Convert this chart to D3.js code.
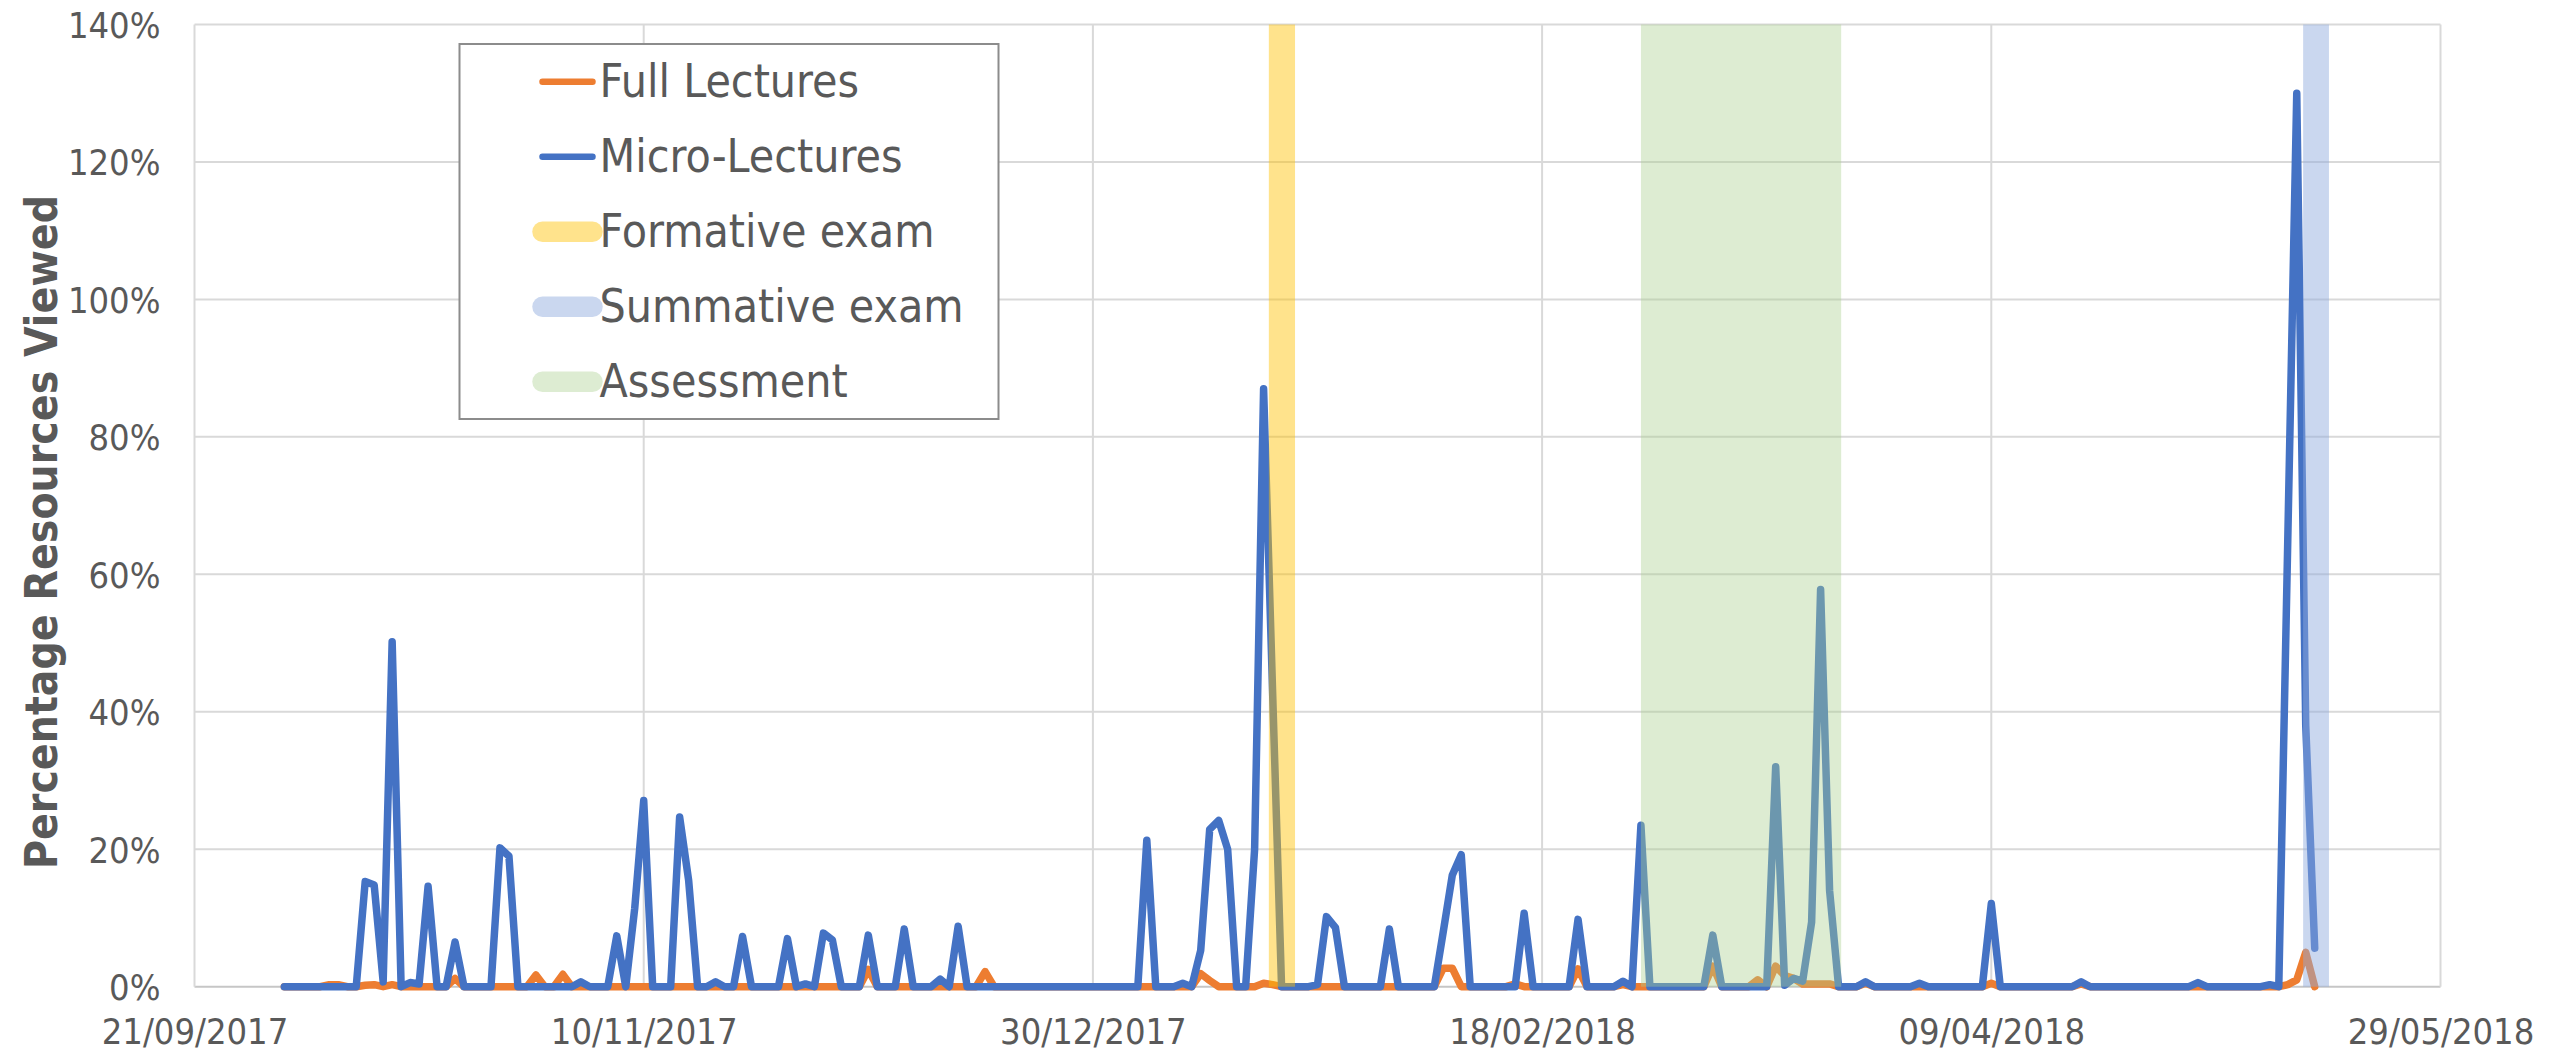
<!DOCTYPE html>
<html>
<head>
<meta charset="utf-8">
<script src="https://cdnjs.cloudflare.com/ajax/libs/d3/7.8.5/d3.min.js"></script>
<style>
  html, body { margin: 0; padding: 0; background: #fff; }
  svg { display: block; }
  .tick-label { font-family: "DejaVu Sans Condensed", "DejaVu Sans", sans-serif; font-size: 36px; fill: #595959; }
  .legend-label { font-family: "DejaVu Sans Condensed", "DejaVu Sans", sans-serif; font-size: 46px; fill: #595959; }
</style>
</head>
<body>
<svg id="chart"></svg>
<script>
// Daily data, first value is 01/10/2017
const firstDay = "2017-10-01";

// Full Lectures (% resources viewed per day)
const fullLectures = [
  0, 0, 0, 0, 0, 0.3, 0.3, 0, 0, 0.2,
  0.3, 0, 0.3, 0, 0, 0, 0, 0, 0, 1.2,
  0, 0, 0, 0, 0, 0, 0, 0, 1.7, 0,
  0, 1.8, 0, 0, 0, 0, 0, 0, 0, 0,
  0, 0, 0, 0, 0, 0, 0, 0, 0, 0,
  0, 0, 0, 0, 0, 0, 0, 0, 0, 0,
  0, 0, 0, 0, 0, 2.5, 0, 0, 0, 0,
  0, 0, 0, 0, 0, 0, 0, 0, 2.2, 0,
  0, 0, 0, 0, 0, 0, 0, 0, 0, 0,
  0, 0, 0, 0, 0, 0, 0, 0, 0, 0,
  0, 0, 1.9, 0.9, 0, 0, 0, 0, 0, 0.5,
  0.3, 0, 0, 0, 0, 0, 0, 0, 0, 0,
  0, 0, 0, 0, 0, 0, 0, 0, 0, 2.7,
  2.7, 0, 0, 0, 0, 0, 0, 0.4, 0, 0,
  0, 0, 0, 0, 2.6, 0, 0, 0, 0, 0.3,
  0, 0, 0, 0, 0, 0, 0, 0, 0, 3.0,
  0, 0, 0, 0, 1.0, 0, 3.0, 1.6, 1.2, 0.4,
  0.4, 0.4, 0.4, 0, 0, 0, 0.5, 0, 0, 0,
  0, 0, 0, 0, 0, 0, 0, 0, 0, 0,
  0.5, 0, 0, 0, 0, 0, 0, 0, 0, 0,
  0.4, 0, 0, 0, 0, 0, 0, 0, 0, 0,
  0, 0, 0, 0, 0, 0, 0, 0, 0, 0,
  0, 0, 0, 0.3, 1.0, 5.0, 0
];

// Micro-Lectures (% resources viewed per day)
const microLectures = [
  0, 0, 0, 0, 0, 0, 0, 0, 0, 15.3,
  14.8, 0.7, 50.2, 0, 0.6, 0.4, 14.6, 0, 0, 6.5,
  0, 0, 0, 0, 20.2, 19.0, 0, 0, 0, 0,
  0, 0, 0, 0.7, 0, 0, 0, 7.4, 0, 11.4,
  27.1, 0, 0, 0, 24.7, 15.5, 0, 0, 0.7, 0,
  0, 7.3, 0, 0, 0, 0, 7.0, 0, 0.4, 0,
  7.8, 6.8, 0, 0, 0, 7.5, 0, 0, 0, 8.4,
  0, 0, 0, 1.1, 0, 8.8, 0, 0, 0, 0,
  0, 0, 0, 0, 0, 0, 0, 0, 0, 0,
  0, 0, 0, 0, 0, 0, 21.3, 0, 0, 0,
  0.5, 0, 5.3, 22.9, 24.2, 20.0, 0, 0, 20.0, 87.0,
  43, 0, 0, 0, 0, 0.3, 10.2, 8.6, 0, 0,
  0, 0, 0, 8.4, 0, 0, 0, 0, 0, 8,
  16.2, 19.2, 0, 0, 0, 0, 0, 0, 10.7, 0,
  0, 0, 0, 0, 9.8, 0, 0, 0, 0, 0.8,
  0, 23.5, 0, 0, 0, 0, 0, 0, 0, 7.5,
  0, 0, 0, 0, 0, 0, 32.0, 0.2, 1.2, 0.8,
  9.4, 57.8, 14.0, 0, 0, 0, 0.7, 0, 0, 0,
  0, 0, 0.5, 0, 0, 0, 0, 0, 0, 0,
  12.1, 0, 0, 0, 0, 0, 0, 0, 0, 0,
  0.7, 0, 0, 0, 0, 0, 0, 0, 0, 0,
  0, 0, 0, 0.6, 0, 0, 0, 0, 0, 0,
  0, 0.3, 0, 65, 130, 38, 5.6
];

// Exam / assessment periods
const bandNames = ["Formative exam", "Summative exam", "Assessment"];
const bandStarts = ["2018-01-18T14:00", "2018-05-13T17:00", "2018-03-01T00:00"];
const bandEnds = ["2018-01-21T12:00", "2018-05-16T14:00", "2018-03-23T07:00"];

// Axis ticks
const xTickLabels = ["21/09/2017", "10/11/2017", "30/12/2017", "18/02/2018", "09/04/2018", "29/05/2018"];
const yTickValues = [0, 0.2, 0.4, 0.6, 0.8, 1.0, 1.2, 1.4];

// Dimensions
const width = 2574;
const height = 1053;
const plot = { left: 194.5, right: 2440.5, top: 24.5, bottom: 986.7 };

const parseTick = d3.utcParse("%d/%m/%Y");
const parseBand = d3.utcParse("%Y-%m-%dT%H:%M");
const start = d3.utcParse("%Y-%m-%d")(firstDay);
const xTicks = xTickLabels.map(parseTick);

const rows = microLectures.map((m, i) => ({
  date: d3.utcDay.offset(start, i),
  micro: m / 100,
  full: fullLectures[i] / 100
}));

const bands = bandNames.map((name, i) => ({
  name: name,
  start: parseBand(bandStarts[i]),
  end: parseBand(bandEnds[i])
}));

const bandColor = d3.scaleOrdinal()
    .domain(bandNames)
    .range(["#FFC000", "#8FAADC", "#A9D08E"]);
const bandOpacity = d3.scaleOrdinal()
    .domain(bandNames)
    .range([0.45, 0.47, 0.4]);

const x = d3.scaleUtc()
    .domain([xTicks[0], xTicks[xTicks.length - 1]])
    .range([plot.left, plot.right]);

const y = d3.scaleLinear()
    .domain([0, 1.4])
    .range([plot.bottom, plot.top]);

const svg = d3.select("#chart")
    .attr("width", width)
    .attr("height", height);

// Gridlines
svg.append("g")
  .selectAll("line")
  .data(yTickValues)
  .enter().append("line")
    .attr("x1", plot.left)
    .attr("x2", plot.right)
    .attr("y1", d => y(d))
    .attr("y2", d => y(d))
    .attr("stroke", d => d === 0 ? "#C6C6C6" : "#D9D9D9")
    .attr("stroke-width", 2);

svg.append("g")
  .selectAll("line")
  .data(xTicks)
  .enter().append("line")
    .attr("x1", d => x(d))
    .attr("x2", d => x(d))
    .attr("y1", plot.top)
    .attr("y2", plot.bottom)
    .attr("stroke", "#D9D9D9")
    .attr("stroke-width", 2);

// Y axis labels
const yAxis = d3.axisLeft(y)
    .tickValues(yTickValues)
    .tickFormat(d3.format(".0%"))
    .tickSize(0)
    .tickPadding(34);

svg.append("g")
    .attr("transform", `translate(${plot.left},0)`)
    .call(yAxis)
    .call(g => g.select(".domain").remove())
    .selectAll("text")
    .attr("class", "tick-label")
    .attr("dy", "0.36em");

// X axis labels
const xAxis = d3.axisBottom(x)
    .tickValues(xTicks)
    .tickFormat(d3.utcFormat("%d/%m/%Y"))
    .tickSize(0)
    .tickPadding(32);

svg.append("g")
    .attr("transform", `translate(0,${plot.bottom})`)
    .call(xAxis)
    .call(g => g.select(".domain").remove())
    .selectAll("text")
    .attr("class", "tick-label");

// Y axis title
svg.append("text")
    .attr("transform", "translate(57,532)rotate(-90)")
    .attr("text-anchor", "middle")
    .style("font-family", "'DejaVu Sans Condensed', 'DejaVu Sans', sans-serif")
    .style("font-weight", "bold")
    .style("font-size", "44px")
    .style("fill", "#595959")
    .text("Percentage Resources Viewed");

// Lines
const lineFull = d3.line()
    .x(d => x(d.date))
    .y(d => y(d.full));

const lineMicro = d3.line()
    .x(d => x(d.date))
    .y(d => y(d.micro));

svg.append("path")
    .datum(rows)
    .attr("d", lineFull)
    .attr("fill", "none")
    .attr("stroke", "#ED7D31")
    .attr("stroke-width", 7.5)
    .attr("stroke-linejoin", "round")
    .attr("stroke-linecap", "round");

svg.append("path")
    .datum(rows)
    .attr("d", lineMicro)
    .attr("fill", "none")
    .attr("stroke", "#4472C4")
    .attr("stroke-width", 7.5)
    .attr("stroke-linejoin", "round")
    .attr("stroke-linecap", "round");

// Exam bands drawn over the lines (semi transparent)
svg.append("g")
  .selectAll("rect")
  .data(bands)
  .enter().append("rect")
    .attr("x", d => x(d.start))
    .attr("width", d => x(d.end) - x(d.start))
    .attr("y", y(1.4))
    .attr("height", y(0) - y(1.4))
    .attr("fill", d => bandColor(d.name))
    .attr("fill-opacity", d => bandOpacity(d.name));

// Legend
const legendItems = [
  { name: "Full Lectures", color: "#ED7D31", opacity: 1, size: 6.5 },
  { name: "Micro-Lectures", color: "#4472C4", opacity: 1, size: 6.5 }
].concat(bandNames.map(n => ({ name: n, color: bandColor(n), opacity: bandOpacity(n), size: 20.5 })));

const legend = svg.append("g")
    .attr("transform", "translate(459.5,44)");

legend.append("rect")
    .attr("width", 539)
    .attr("height", 375)
    .attr("fill", "#fff")
    .attr("stroke", "#8C8C8C")
    .attr("stroke-width", 2);

const item = legend.selectAll(".item")
    .data(legendItems)
  .enter().append("g")
    .attr("class", "item")
    .attr("transform", (d, i) => `translate(0,${37.7 + i * 75})`);

item.append("line")
    .attr("x1", 83)
    .attr("x2", 133)
    .attr("stroke", d => d.color)
    .attr("stroke-opacity", d => d.opacity)
    .attr("stroke-width", d => d.size)
    .attr("stroke-linecap", "round");

item.append("text")
    .attr("class", "legend-label")
    .attr("x", 140)
    .attr("y", 15)
    .text(d => d.name);
</script>
</body>
</html>
